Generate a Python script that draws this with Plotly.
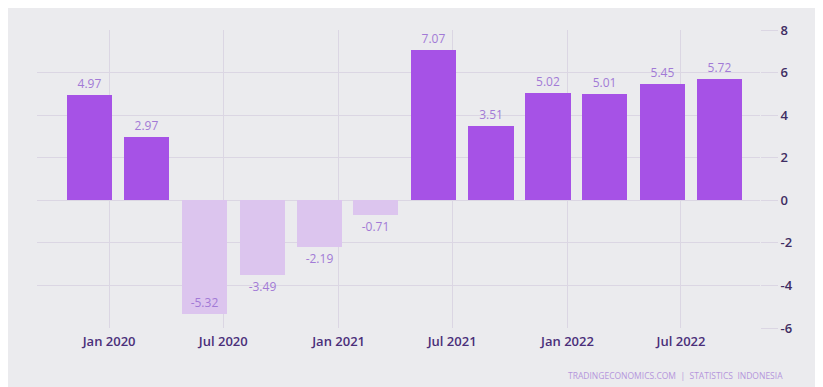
import plotly.graph_objects as go

quarters = ["2019-12-01", "2020-03-01", "2020-06-01", "2020-09-01", "2020-12-01", "2021-03-01",
            "2021-06-01", "2021-09-01", "2021-12-01", "2022-03-01", "2022-06-01", "2022-09-01"]
growth = [4.97, 2.97, -5.32, -3.49, -2.19, -0.71, 7.07, 3.51, 5.02, 5.01, 5.45, 5.72]
y_ticks = [-6, -4, -2, 0, 2, 4, 6, 8]
y_tick_labels = ["-6", "-4", "-2", "0", "2", "4", "6", "8"]
source_text = "TRADINGECONOMICS.COM  |  STATISTICS  INDONESIA"

pos_color = "#a652e6"
neg_color = "#dcc5ee"
bar_colors = [pos_color if v >= 0 else neg_color for v in growth]
labels = [f"{v:.2f}" for v in growth]
positions = ["inside" if v < -5 else "outside" for v in growth]

W, H = 823, 387
ml, mr, mt, mb = 29, 71, 22, 67

gw = W - ml - mr
gh = H - mt - mb

fig = go.Figure(go.Bar(
    x=quarters, y=growth,
    width=[72 * 86400000] * len(growth),
    marker=dict(color=bar_colors, line=dict(width=0)),
    text=labels, textposition=positions, insidetextanchor="end",
    textfont=dict(family="Open Sans", size=12, color="#a27ad6"),
    insidetextfont=dict(family="Open Sans", size=12, color="#a27ad6"),
    outsidetextfont=dict(family="Open Sans", size=12, color="#a27ad6"),
    cliponaxis=False,
    hoverinfo="x+y",
))

fig.update_layout(
    width=W, height=H,
    margin=dict(l=ml, r=mr, t=mt, b=mb),
    paper_bgcolor="#ebebee", plot_bgcolor="#ebebee",
    showlegend=False,
    font=dict(family="Open Sans", color="#3f2d63"),
    bargap=0,
    xaxis=dict(
        type="date", range=["2019-09-08", "2022-11-04"],
        tick0="2020-01-01", dtick="M6", tickformat="%b %Y",
        showgrid=True, gridcolor="#dbd6e3", gridwidth=1,
        ticks="", showline=False, zeroline=False, ticklabelstandoff=4,
        tickfont=dict(family="Open Sans", size=13, color="#4a2f7a", weight=600),
    ),
    yaxis=dict(
        side="right", range=[-6, 8], tickvals=y_ticks, ticktext=y_tick_labels,
        showgrid=True, gridcolor="#dbd6e3", gridwidth=1,
        zeroline=False, showline=False,
        ticks="outside", ticklen=17, tickcolor="#dbd6e3", tickwidth=1,
        tickfont=dict(family="Open Sans", size=13, color="#3f2d63", weight=600),
    ),
    annotations=[dict(
        text=source_text, xref="paper", yref="paper",
        x=1 + 25 / gw, y=-(367 - (H - mb)) / gh, xanchor="right", yanchor="middle",
        showarrow=False, font=dict(family="Open Sans", size=8.5, color="#b596dc"),
    )],
)

fig.write_html("out.html")
